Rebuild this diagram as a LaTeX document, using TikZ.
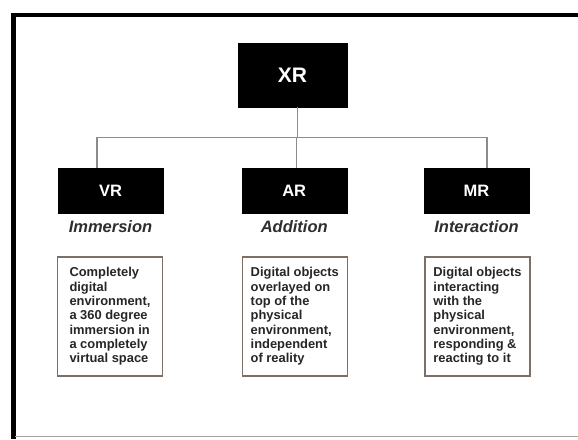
\documentclass[tikz,border=0pt]{standalone}
\usepackage{fontspec}
\setmainfont{Liberation Sans}
\begin{document}
\begin{tikzpicture}[x=1pt,y=-1pt,
  topbox/.style={fill=black,draw=black,minimum width=109pt,minimum height=64pt,inner sep=0pt,
    text=white,font=\fontsize{21}{24}\selectfont\bfseries},
  catbox/.style={fill=black,draw=black,minimum width=105pt,minimum height=45pt,inner sep=0pt,
    text=white,font=\fontsize{16.5}{19}\selectfont\bfseries},
  tagline/.style={anchor=base,text=black!82,font=\fontsize{16.5}{19}\selectfont\bfseries\itshape,inner sep=0pt},
  descbox/.style={draw=descborder,line width=1.5pt,minimum width=105pt,minimum height=119pt,inner sep=0pt,
    align=left,text=black!85,font=\fontsize{12.9}{14.3}\selectfont\bfseries},
  link/.style={draw=linkgray,line width=1.4pt}]
\definecolor{descborder}{HTML}{7D6E66}
\definecolor{linkgray}{HTML}{8C8C8C}
\useasboundingbox (0,0) rectangle (578,439);
\fill[white] (0,0) rectangle (578,439);
% frame
\draw[line width=4pt,black] (11,14.5) -- (578,14.5);
\draw[line width=4.5pt,black] (13.5,12.5) -- (13.5,439);
\draw[line width=1.2pt,black!35] (15,436.7) -- (578,436.7);
% nodes
\node[topbox] (xr) at (292.4,75.2) {XR};
\node[catbox] (vr) at (110.5,190.5) {VR};
\node[catbox] (ar) at (294.2,190.5) {AR};
\node[catbox] (mr) at (476.5,190.5) {MR};
\node[tagline] (vrt) at (110.5,232) {Immersion};
\node[tagline] (art) at (294.2,232) {Addition};
\node[tagline] (mrt) at (476.5,232) {Interaction};
\node[descbox] (vrd) at (110,316.5) {Completely\\digital\\environment,\\a 360 degree\\immersion in\\a completely\\virtual space};
\node[descbox] (ard) at (294.8,316.5) {Digital objects\\overlayed on\\top of the\\physical\\environment,\\independent\\of reality};
\node[descbox] (mrd) at (477.5,316.5) {Digital objects\\interacting\\with the\\physical\\environment,\\responding \&\\reacting to it};
% connectors
\coordinate (j) at (297.3,137.3);
\coordinate (vrtop) at ([xshift=-13.5pt]vr.north);
\coordinate (artop) at ([xshift=2pt]ar.north);
\coordinate (mrtop) at ([xshift=10.5pt]mr.north);
\draw[link] (xr.south -| j) -- (j);
\draw[link] (vrtop) -- (vrtop |- j) -- (mrtop |- j) -- (mrtop);
\draw[link] (artop |- j) -- (artop);
\end{tikzpicture}
\end{document}
